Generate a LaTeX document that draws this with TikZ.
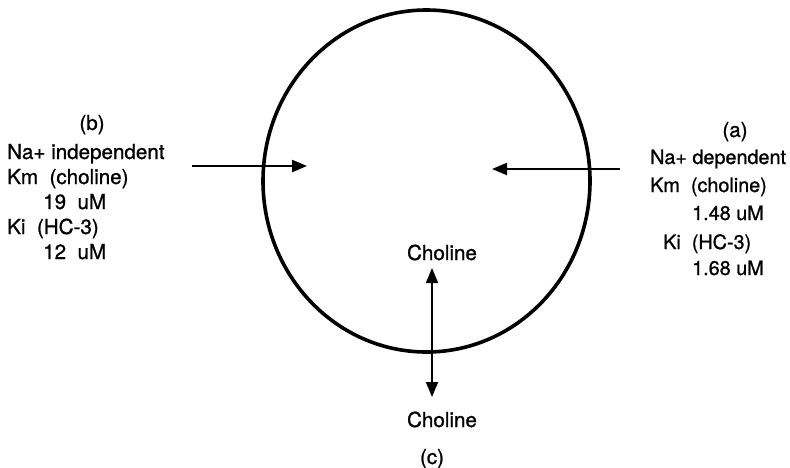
\documentclass[tikz,border=0pt]{standalone}
\usepackage{fontspec}
\setmainfont{TeX Gyre Heros}[FakeBold=1.0]
\usetikzlibrary{arrows.meta,shapes.geometric}

\begin{document}
\begin{tikzpicture}[x=1pt,y=-1pt,
  txt/.style={font=\fontsize{20.6}{24}\selectfont, inner sep=0pt, anchor=base west},
  rtxt/.style={font=\fontsize{19.8}{24}\selectfont, inner sep=0pt, anchor=base west},
  ctxt/.style={font=\fontsize{20.6}{24}\selectfont, inner sep=0pt, anchor=base},
  flux/.style={line width=2.2pt, -{Triangle[length=15pt,width=12pt]}},
  both/.style={line width=1.8pt, {Triangle[length=15pt,width=12pt]}-{Triangle[length=15pt,width=12pt]}}]
\useasboundingbox (0,0) rectangle (790,467);

% cell membrane
\node[draw, ellipse, line width=3.6pt, minimum width=327pt, minimum height=342pt, inner sep=0pt] (cell) at (426.5,181) {};

% (b) sodium-independent uptake, left
\node[ctxt] (bl) at (92,130) {(b)};
\node[txt] (b1) at (7,159) {Na+ independent};
\node[txt] (b2) at (7,184) {Km\ \ (choline)};
\node[txt] (b3) at (43,209) {19\ \ uM};
\node[txt] (b4) at (7,234) {Ki\ \ (HC-3)};
\node[txt] (b5) at (43,259) {12\ \ uM};

% (a) sodium-dependent uptake, right
\node[ctxt] (al) at (735,137) {(a)};
\node[rtxt] (a1) at (650,164) {Na+ dependent};
\node[rtxt] (a2) at (650,192) {Km\ \ (choline)};
\node[rtxt] (a3) at (692,220) {1.48\ uM};
\node[rtxt] (a4) at (663,249) {Ki\ \ (HC-3)};
\node[rtxt] (a5) at (692,275) {1.68\ uM};

% (c) choline exchange across the membrane
\node[ctxt] (chin) at (442,260) {Choline};
\node[ctxt] (chout) at (442,427) {Choline};
\node[ctxt] (cl) at (432,464) {(c)};

% arrow end points
\coordinate (bstart) at (192,166);
\coordinate (bend) at (307,166);
\coordinate (astart) at (620,169);
\coordinate (aend) at (492,169);
\coordinate (ctop) at (432,268);
\coordinate (cbot) at (432,397);

\draw[flux] (bstart) -- (bend);
\draw[flux] (astart) -- (aend);
\draw[both] (ctop) -- (cbot);
\end{tikzpicture}
\end{document}
